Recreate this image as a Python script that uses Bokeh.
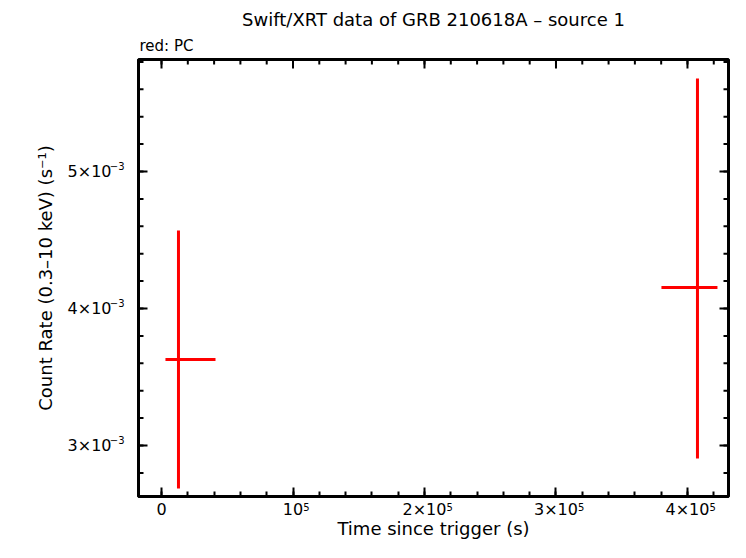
import numpy as np
from bokeh.plotting import figure
from bokeh.models import Range1d, LinearAxis, FixedTicker, Title
from bokeh.embed import file_html
from bokeh.resources import INLINE

# ---- data ----
t = [12900, 407600]
t_lo = [3000, 380200]
t_hi = [41060, 422800]
rate = [3.628e-3, 4.153e-3]
rate_lo = [2.686e-3, 2.905e-3]
rate_hi = [4.569e-3, 5.679e-3]

x_ticks = [0, 100000, 200000, 300000, 400000]
x_tick_base = ["0", "10", "2×10", "3×10", "4×10"]
x_tick_exp = ["", "5", "5", "5", "5"]
y_ticks = [0.003, 0.004, 0.005]
y_tick_base = ["3×10", "4×10", "5×10"]
y_tick_exp = ["−3", "−3", "−3"]

title_text = "Swift/XRT data of GRB 210618A – source 1"
subtitle_text = "red: PC"
x_label = "Time since trigger (s)"
y_label = "Count Rate (0.3–10 keV) (s⁻¹)"

FONT = "DejaVu Sans"
BASE_PX, EXP_PX = 16, 10
W, H = 730, 542
BL, BR, BT, BB = 138, 2, 59, 46
X0, X1 = -17500, 431200
Y0, Y1 = 2.6277e-3, 5.8175e-3
dx_per_px = (X1 - X0) / (W - BL - BR)
dy_per_px = (Y1 - Y0) / (H - BT - BB)

p = figure(width=W, height=H, output_backend="svg", toolbar_location=None,
           x_range=Range1d(X0, X1), y_range=Range1d(Y0, Y1),
           x_axis_location=None, y_axis_location=None,
           min_border_left=BL, min_border_right=BR, min_border_top=BT, min_border_bottom=BB)
p.grid.visible = False
p.outline_line_color = "black"
p.outline_line_width = 3
p.background_fill_color = "white"
p.border_fill_color = "white"

x_minor = list(np.arange(-20000, 450000, 20000))
y_minor = list(np.round(np.arange(2.6e-3, 5.81e-3, 2e-4), 6))

# approximate DejaVu Sans advance widths (em)
def text_w(s, px):
    return sum(0.636 if c.isdigit() else 0.838 for c in s) * px

def base_style(ax, size):
    ax.axis_line_color = "black"
    ax.axis_line_width = 3
    ax.major_tick_line_color = "black"
    ax.minor_tick_line_color = "black"
    ax.major_tick_line_width = 2
    ax.minor_tick_line_width = 2
    ax.major_tick_in = 9
    ax.major_tick_out = 0
    ax.minor_tick_in = 5
    ax.minor_tick_out = 0
    ax.major_label_text_font = FONT
    ax.major_label_text_font_size = f"{size}px"
    ax.major_label_text_color = "black"
    ax.axis_label_text_font = FONT
    ax.axis_label_text_font_size = "18px"
    ax.axis_label_text_font_style = "normal"
    ax.axis_label_text_color = "black"

def no_ticks(ax, line=False):
    ax.major_tick_line_color = None
    ax.minor_tick_line_color = None
    if not line:
        ax.axis_line_color = None

# ---- bottom: ticks + base labels, then exponents (raised into the same row) ----
xa = LinearAxis(ticker=FixedTicker(ticks=x_ticks, minor_ticks=x_minor))
xa.major_label_overrides = dict(zip(x_ticks, x_tick_base))
base_style(xa, BASE_PX)
xa.major_label_standoff = 3
p.add_layout(xa, "below")

x_exp_pos = [tv + (text_w(b, BASE_PX) + text_w(e, EXP_PX)) / 2 * dx_per_px
             for tv, b, e in zip(x_ticks, x_tick_base, x_tick_exp) if e]
x_exp_txt = [e for e in x_tick_exp if e]
xe = LinearAxis(ticker=FixedTicker(ticks=x_exp_pos, minor_ticks=[]), axis_label=x_label)
xe.major_label_overrides = dict(zip(x_exp_pos, x_exp_txt))
base_style(xe, EXP_PX)
no_ticks(xe)
xe.major_label_standoff = -19
xe.axis_label_standoff = 4
p.add_layout(xe, "below")

# ---- left: exponents next to the frame (raised), then base labels ----
raise_px = 5
y_exp_pos = [tv + raise_px * dy_per_px for tv in y_ticks]
ye = LinearAxis(ticker=FixedTicker(ticks=y_exp_pos, minor_ticks=[]))
ye.major_label_overrides = dict(zip(y_exp_pos, y_tick_exp))
base_style(ye, EXP_PX)
no_ticks(ye, line=True)
ye.major_label_standoff = 14
p.add_layout(ye, "left")

yb = LinearAxis(ticker=FixedTicker(ticks=y_ticks, minor_ticks=[]), axis_label=y_label)
yb.major_label_overrides = dict(zip(y_ticks, y_tick_base))
base_style(yb, BASE_PX)
no_ticks(yb)
yb.major_label_standoff = -5
yb.axis_label_standoff = 9
p.add_layout(yb, "left")

# inward ticks on left, top and right edges
x_minor_in = [v for v in x_minor if X0 < v < X1]
y_minor_in = [v for v in y_minor if Y0 < v < Y1]
tick_kw = dict(length_units="screen", line_color="black", line_width=2)
p.ray(x=x_ticks, y=[Y1] * len(x_ticks), length=9, angle=-np.pi / 2, **tick_kw)
p.ray(x=x_minor_in, y=[Y1] * len(x_minor_in), length=5, angle=-np.pi / 2, **tick_kw)
p.ray(x=[X1] * len(y_ticks), y=y_ticks, length=9, angle=np.pi, **tick_kw)
p.ray(x=[X1] * len(y_minor_in), y=y_minor_in, length=5, angle=np.pi, **tick_kw)
p.ray(x=[X0] * len(y_ticks), y=y_ticks, length=9, angle=0, **tick_kw)
p.ray(x=[X0] * len(y_minor_in), y=y_minor_in, length=5, angle=0, **tick_kw)

p.add_layout(Title(text=subtitle_text, align="left", text_font=FONT, text_font_size="15px",
                   text_font_style="normal", text_color="black", standoff=9, offset=1), "above")
p.add_layout(Title(text=title_text, align="center", text_font=FONT, text_font_size="18px",
                   text_font_style="normal", text_color="black", standoff=2), "above")

# error bars
p.segment(x0=t_lo, x1=t_hi, y0=rate, y1=rate, line_color="#ff0000", line_width=3)
p.segment(x0=t, x1=t, y0=rate_lo, y1=rate_hi, line_color="#ff0000", line_width=3)

open("out.html", "w").write(file_html(p, INLINE))
